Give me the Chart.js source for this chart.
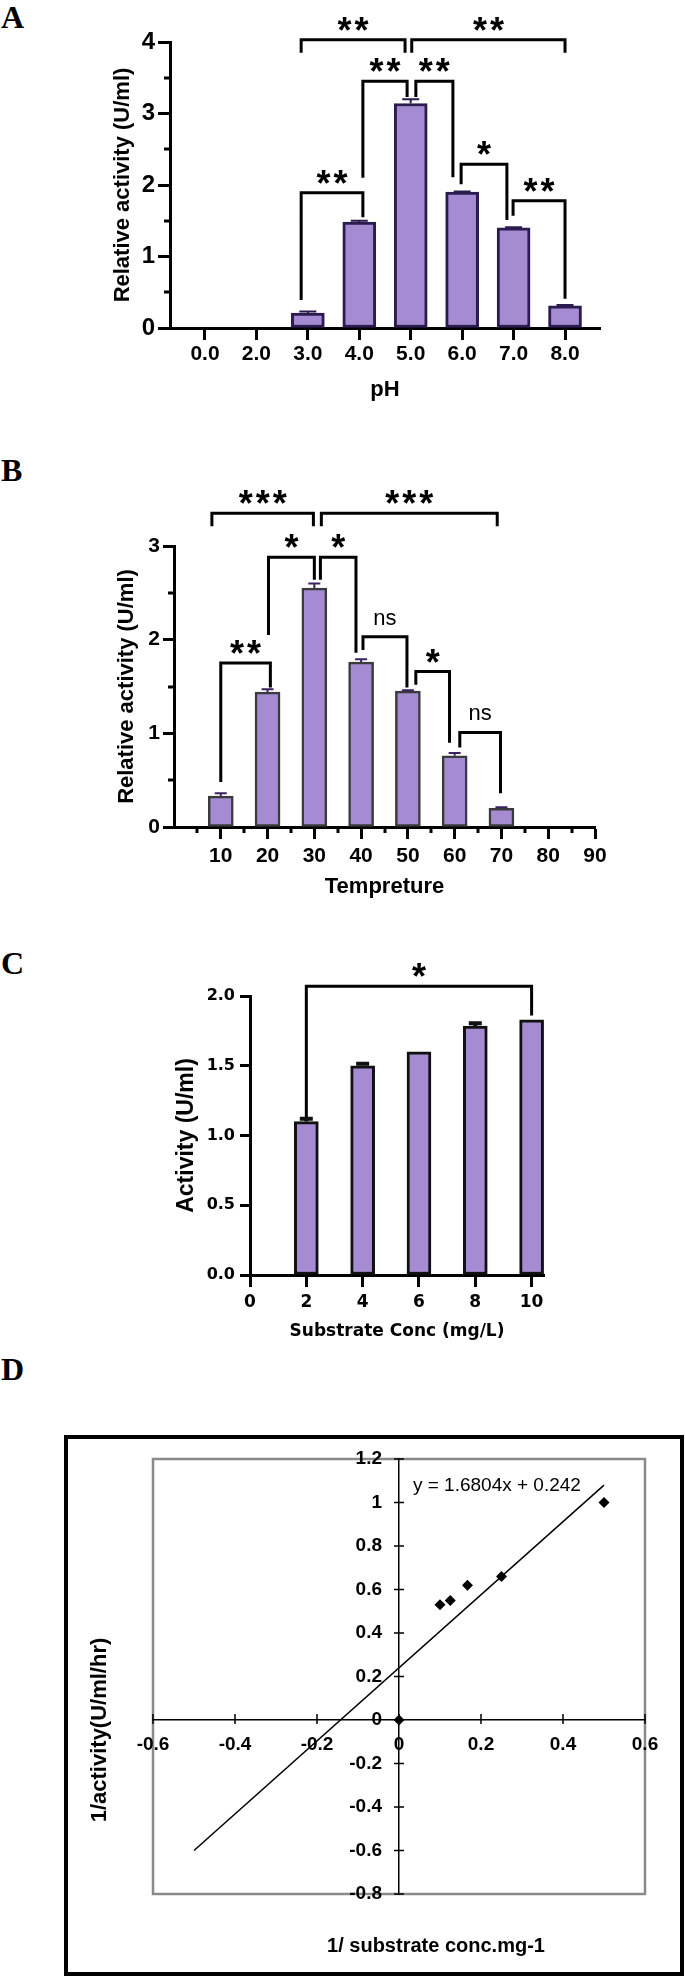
<!DOCTYPE html>
<html>
<head>
<meta charset="utf-8">
<title>Enzyme activity</title>
<script src="https://cdn.jsdelivr.net/npm/chart.js@4.4.1/dist/chart.umd.min.js"></script>
<style>
  html, body { margin:0; padding:0; background:#fff; }
  body { position:relative; width:685px; height:1979px; overflow:hidden; }
  canvas { position:absolute; left:0; }
  .panel { position:absolute; left:1px; font-family:'Liberation Serif','Times New Roman',serif; font-weight:bold; font-size:32px; line-height:32px; color:#000; }
  #frameD { position:absolute; left:64px; top:1435px; width:620px; height:541px; border:4px solid #000; box-sizing:border-box; }
</style>
</head>
<body>
<div class="panel" style="top:1px">A</div>
<div class="panel" style="top:454px">B</div>
<div class="panel" style="top:947px">C</div>
<div class="panel" style="top:1353px">D</div>
<div id="frameD"></div>
<canvas id="chartA" width="685" height="410" style="top:0"></canvas>
<canvas id="chartB" width="685" height="470" style="top:440px"></canvas>
<canvas id="chartC" width="685" height="420" style="top:930px"></canvas>
<canvas id="chartD" width="685" height="579" style="top:1400px"></canvas>
<script>
// ---------- Panel A : pH ----------
const phLabels   = ['0.0','2.0','3.0','4.0','5.0','6.0','7.0','8.0'];
const phActivity = [0, 0, 0.21, 1.48, 3.14, 1.90, 1.40, 0.31];
const phError    = [0, 0, 0.02, 0.02, 0.06, 0.01, 0.01, 0.01];
const phYTicks   = [0, 1, 2, 3, 4];
const phYMinor   = [0.5, 1.5, 2.5, 3.5];
// [from, to, top, left leg end, right leg end, label]  (x in category index, y in U/ml)
const phBrackets = [
  [1.87, 3.89, 4.03, 3.85, 3.85, '**'],
  [4.02, 7.00, 4.03, 3.85, 3.85, '**'],
  [3.07, 3.93, 3.45, 2.10, 3.23, '**'],
  [4.10, 4.82, 3.45, 3.23, 2.11, '**'],
  [1.87, 3.07, 1.89, 0.39, 1.55, '**'],
  [4.98, 5.87, 2.29, 2.01, 1.51, '*'],
  [5.99, 7.00, 1.78, 1.57, 0.41, '**']
];

// ---------- Panel B : temperature ----------
const tempValues   = [10, 20, 30, 40, 50, 60, 70];
const tempActivity = [0.33, 1.44, 2.55, 1.76, 1.45, 0.76, 0.20];
const tempError    = [0.03, 0.03, 0.05, 0.03, 0.01, 0.03, 0.01];
const tempXTicks   = [10, 20, 30, 40, 50, 60, 70, 80, 90];
const tempXMinor   = [5, 15, 25, 35, 45, 55, 65, 75, 85];
const tempYTicks   = [0, 1, 2, 3];
const tempYMinor   = [0.5, 1.5, 2.5];
const tempBrackets = [
  [8.1, 29.8, 3.35, 3.21, 3.21, '***'],
  [31.5, 69.1, 3.35, 3.21, 3.21, '***'],
  [20.2, 30.0, 2.88, 2.05, 2.64, '*'],
  [31.3, 38.9, 2.88, 2.64, 1.86, '*'],
  [10.0, 20.6, 1.75, 0.48, 1.49, '**'],
  [40.4, 49.8, 2.03, 1.89, 1.49, 'ns'],
  [51.7, 58.9, 1.66, 1.52, 0.90, '*'],
  [61.1, 69.8, 1.01, 0.85, 0.36, 'ns']
];

// ---------- Panel C : substrate concentration ----------
const concValues   = [0, 2, 4, 6, 8, 10];
const concActivity = [0, 1.10, 1.50, 1.60, 1.785, 1.83];
const concError    = [0, 0.02, 0.015, 0, 0.02, 0];
const concXTicks   = [0, 2, 4, 6, 8, 10];
const concYTicks   = [0, 0.5, 1, 1.5, 2];
const concYLabels  = ['0.0', '0.5', '1.0', '1.5', '2.0'];
const concBrackets = [[2, 10, 2.07, 1.125, 1.86, '*']];

// ---------- Panel D : Lineweaver-Burk ----------
const lbX = [0, 0.1, 0.125, 0.167, 0.25, 0.5];
const lbY = [0, 0.53, 0.55, 0.62, 0.66, 1.0];
const trendX = [-0.5, 0.5];
const trendY = [-0.6, 1.08];
const lbXTicks = [-0.6, -0.4, -0.2, 0, 0.2, 0.4, 0.6];
const lbXTickLabels = ['-0.6', '-0.4', '-0.2', '0', '0.2', '0.4', '0.6'];
const lbYTicks = [-0.8, -0.6, -0.4, -0.2, 0, 0.2, 0.4, 0.6, 0.8, 1, 1.2];
const lbYTickLabels = ['-0.8', '-0.6', '-0.4', '-0.2', '0', '0.2', '0.4', '0.6', '0.8', '1', '1.2'];
const equationText = 'y = 1.6804x + 0.242';
const equationAt = [0.034, 1.075];

// ---------- styling ----------
const PURPLE = '#a58bd1';
const ARIAL  = "'Liberation Sans',Arial,sans-serif";
const DEJAVU = "'DejaVu Sans',sans-serif";

function makeAnnot(p) {
  return {
    id: 'annot',
    afterDraw(chart) {
      const ctx = chart.ctx, xs = chart.scales.x, ys = chart.scales.y, ca = chart.chartArea;
      ctx.save();
      // minor ticks
      (p.minor || []).forEach(m => {
        ctx.strokeStyle = '#000'; ctx.lineWidth = 3; ctx.lineCap = 'butt';
        ctx.beginPath();
        m.values.forEach(v => {
          if (m.axis === 'y') {
            const py = Math.round(ys.getPixelForValue(v));
            ctx.moveTo(ca.left - m.len, py); ctx.lineTo(ca.left, py);
          } else {
            const px = Math.round(xs.getPixelForValue(v));
            ctx.moveTo(px, ca.bottom); ctx.lineTo(px, ca.bottom + m.len);
          }
        });
        ctx.stroke();
      });
      // error bars
      ctx.strokeStyle = p.errColor; ctx.lineWidth = p.errW;
      p.xs.forEach((x, i) => {
        const e = p.err[i];
        if (!e) return;
        const px = xs.getPixelForValue(x);
        const y0 = ys.getPixelForValue(p.ys[i]);
        const y1 = ys.getPixelForValue(p.ys[i] + e);
        ctx.beginPath();
        ctx.moveTo(px, y0); ctx.lineTo(px, y1);
        ctx.moveTo(px - p.capW / 2, y1); ctx.lineTo(px + p.capW / 2, y1);
        ctx.stroke();
      });
      // significance brackets
      ctx.strokeStyle = '#000'; ctx.fillStyle = '#000';
      ctx.lineWidth = 3; ctx.lineJoin = 'miter'; ctx.lineCap = 'butt';
      p.brackets.forEach(b => {
        const x1 = xs.getPixelForValue(b[0]), x2 = xs.getPixelForValue(b[1]);
        const yt = ys.getPixelForValue(b[2]);
        ctx.beginPath();
        ctx.moveTo(x1, ys.getPixelForValue(b[3]));
        ctx.lineTo(x1, yt); ctx.lineTo(x2, yt);
        ctx.lineTo(x2, ys.getPixelForValue(b[4]));
        ctx.stroke();
        const cx = (x1 + x2) / 2, cy = yt - 18;
        const lab = b[5];
        if (lab === 'ns') {
          ctx.font = '22px ' + ARIAL; ctx.textAlign = 'center'; ctx.textBaseline = 'alphabetic';
          ctx.fillText('ns', cx, cy + 6);
        } else {
          ctx.font = 'bold 36px ' + ARIAL; ctx.textAlign = 'center'; ctx.textBaseline = 'alphabetic';
          const n = lab.length;
          for (let k = 0; k < n; k++) {
            ctx.fillText('*', cx + (k - (n - 1) / 2) * 17, cy + 21);
          }
        }
      });
      ctx.restore();
    }
  };
}

function gridOpts(len) {
  return { display: true, drawOnChartArea: false, drawTicks: true, tickLength: len, tickWidth: 3, tickColor: '#000', offset: false };
}

function barChart(id, p) {
  return new Chart(document.getElementById(id), {
    type: 'bar',
    data: { datasets: [{
      data: p.xs.map((x, i) => ({ x: x, y: p.ys[i] })),
      backgroundColor: PURPLE, borderColor: p.border, borderWidth: p.bw,
      borderSkipped: false, barThickness: p.barW
    }]},
    options: {
      responsive: false, animation: false, events: [],
      layout: { padding: { left: 0, top: p.top, right: p.right, bottom: 0 } },
      plugins: { legend: { display: false }, tooltip: { enabled: false } },
      scales: {
        x: {
          type: 'linear', min: p.xmin, max: p.xmax, offset: false,
          afterBuildTicks: s => { s.ticks = p.xTicks.map(v => ({ value: v })); },
          afterFit: s => { s.height = p.xH; },
          ticks: { font: p.xTickFont, color: '#000', padding: p.xTickPad, autoSkip: false, maxRotation: 0, minRotation: 0, callback: p.xLabel },
          grid: gridOpts(p.xTL), border: { display: true, color: '#000', width: 3 },
          title: { display: true, text: p.xTitle, font: p.xTitleFont, color: '#000', padding: { top: 0, bottom: p.xTitlePad } }
        },
        y: {
          type: 'linear', min: p.ymin, max: p.ymax,
          afterBuildTicks: s => { s.ticks = p.yTicks.map(v => ({ value: v })); },
          afterFit: s => { s.width = p.yW; },
          ticks: { font: p.yTickFont, color: '#000', padding: p.yTickPad, autoSkip: false, callback: p.yLabel },
          grid: gridOpts(p.yTL), border: { display: true, color: '#000', width: 3 },
          title: { display: true, text: p.yTitle, font: p.yTitleFont, color: '#000', padding: { top: p.yTitlePad, bottom: 0 } }
        }
      }
    },
    plugins: [makeAnnot(p)]
  });
}

// Panel A
barChart('chartA', {
  xs: phLabels.map((_, i) => i), ys: phActivity, err: phError, brackets: phBrackets,
  border: '#2b1b4f', bw: 3, barW: 33, errColor: '#2b1b4f', errW: 2, capW: 17,
  top: 42, right: 85, xmin: -0.68, xmax: 7.68, xH: 82, yW: 170,
  xTicks: phLabels.map((_, i) => i), xLabel: v => phLabels[v],
  yTicks: phYTicks, yLabel: v => String(v), ymin: 0, ymax: 4,
  xTL: 12, yTL: 12, xTickPad: 2, yTickPad: 3,
  xTickFont: { family: ARIAL, size: 21, weight: 'bold' },
  yTickFont: { family: ARIAL, size: 24, weight: 'bold' },
  xTitle: 'pH', xTitleFont: { family: ARIAL, size: 22, weight: 'bold' }, xTitlePad: 7,
  yTitle: 'Relative activity (U/ml)', yTitleFont: { family: ARIAL, size: 22, weight: 'bold' }, yTitlePad: 110,
  minor: [{ axis: 'y', values: phYMinor, len: 6 }]
});

// Panel B
barChart('chartB', {
  xs: tempValues, ys: tempActivity, err: tempError, brackets: tempBrackets,
  border: '#3a3a3a', bw: 2.5, barW: 25, errColor: '#3b2160', errW: 2, capW: 12,
  top: 106, right: 90, xmin: 0, xmax: 90, xH: 83, yW: 174,
  xTicks: tempXTicks, xLabel: v => String(v),
  yTicks: tempYTicks, yLabel: v => String(v), ymin: 0, ymax: 3,
  xTL: 12, yTL: 11, xTickPad: 5, yTickPad: 3,
  xTickFont: { family: ARIAL, size: 21, weight: 'bold' },
  yTickFont: { family: ARIAL, size: 21, weight: 'bold' },
  xTitle: 'Tempreture', xTitleFont: { family: ARIAL, size: 22, weight: 'bold' }, xTitlePad: 10,
  yTitle: 'Relative activity (U/ml)', yTitleFont: { family: ARIAL, size: 22, weight: 'bold' }, yTitlePad: 114,
  minor: [{ axis: 'y', values: tempYMinor, len: 6 }, { axis: 'x', values: tempXMinor, len: 6 }]
});

// Panel C
barChart('chartC', {
  xs: concValues, ys: concActivity, err: concError, brackets: concBrackets,
  border: '#111', bw: 3, barW: 24, errColor: '#111', errW: 4, capW: 13,
  top: 66, right: 141, xmin: 0, xmax: 10.44, xH: 75, yW: 250,
  xTicks: concXTicks, xLabel: v => String(v),
  yTicks: concYTicks, yLabel: v => concYLabels[concYTicks.indexOf(v)], ymin: 0, ymax: 2,
  xTL: 12, yTL: 10, xTickPad: 5, yTickPad: 5,
  xTickFont: { family: DEJAVU, size: 17, weight: 'bold' },
  yTickFont: { family: DEJAVU, size: 16, weight: 'bold' },
  xTitle: 'Substrate Conc (mg/L)', xTitleFont: { family: DEJAVU, size: 17, weight: 'bold' }, xTitlePad: 8,
  yTitle: 'Activity (U/ml)', yTitleFont: { family: ARIAL, size: 23, weight: 'bold' }, yTitlePad: 173,
  minor: []
});

// Panel D
const lbPlugin = {
  id: 'lbAnnot',
  beforeDraw(chart) {
    const ctx = chart.ctx, ca = chart.chartArea;
    ctx.save();
    ctx.strokeStyle = '#8a8a8a'; ctx.lineWidth = 2.5;
    ctx.strokeRect(ca.left, ca.top, ca.right - ca.left, ca.bottom - ca.top);
    ctx.restore();
  },
  afterDraw(chart) {
    const ctx = chart.ctx, xs = chart.scales.x, ys = chart.scales.y;
    const x0 = xs.getPixelForValue(0), y0 = ys.getPixelForValue(0);
    ctx.save();
    ctx.strokeStyle = '#000'; ctx.lineWidth = 1.5;
    ctx.beginPath();
    lbXTicks.forEach(v => { const px = xs.getPixelForValue(v); ctx.moveTo(px, y0 - 6); ctx.lineTo(px, y0 + 4); });
    lbYTicks.forEach(v => { const py = ys.getPixelForValue(v); ctx.moveTo(x0 - 5, py); ctx.lineTo(x0 + 5, py); });
    ctx.stroke();
    ctx.fillStyle = '#000';
    // y tick labels, left of the y axis
    ctx.font = 'bold 19px ' + ARIAL; ctx.textAlign = 'right'; ctx.textBaseline = 'middle';
    lbYTicks.forEach((v, i) => ctx.fillText(lbYTickLabels[i], x0 - 17, ys.getPixelForValue(v)));
    ctx.font = '19px ' + ARIAL; ctx.textAlign = 'left'; ctx.textBaseline = 'middle';
    ctx.fillText(equationText, xs.getPixelForValue(equationAt[0]), ys.getPixelForValue(equationAt[1]));
    ctx.font = 'bold 20px ' + ARIAL; ctx.textAlign = 'center';
    ctx.fillText('1/ substrate conc.mg-1', 436, 546);
    ctx.font = 'bold 22px ' + ARIAL;
    ctx.translate(100, 330); ctx.rotate(-Math.PI / 2);
    ctx.fillText('1/activity(U/ml/hr)', 0, 0);
    ctx.restore();
  }
};

new Chart(document.getElementById('chartD'), {
  type: 'scatter',
  data: { datasets: [
    { data: trendX.map((x, i) => ({ x: x, y: trendY[i] })), showLine: true, borderColor: '#000', borderWidth: 1.5, pointRadius: 0, fill: false },
    { data: lbX.map((x, i) => ({ x: x, y: lbY[i] })), pointStyle: 'rectRot', pointRadius: 5.5, backgroundColor: '#000', borderColor: '#000', borderWidth: 0 }
  ]},
  options: {
    responsive: false, animation: false, events: [],
    layout: { padding: { left: 153, right: 40, top: 59, bottom: 85 } },
    plugins: { legend: { display: false }, tooltip: { enabled: false } },
    scales: {
      x: {
        type: 'linear', min: -0.6, max: 0.6, position: { y: 0 },
        afterBuildTicks: s => { s.ticks = lbXTicks.map(v => ({ value: v })); },
        afterFit: s => { s.height = 0; },
        ticks: { font: { family: ARIAL, size: 19, weight: 'bold' }, color: '#000', padding: 13, autoSkip: false, maxRotation: 0,
                 callback: (v, i) => lbXTickLabels[i] },
        grid: { display: false, drawTicks: false },
        border: { display: true, color: '#000', width: 1.5 }
      },
      y: {
        type: 'linear', min: -0.8, max: 1.2, position: { x: 0 },
        afterBuildTicks: s => { s.ticks = lbYTicks.map(v => ({ value: v })); },
        afterFit: s => { s.width = 0; },
        ticks: { display: false },
        grid: { display: false, drawTicks: false },
        border: { display: true, color: '#000', width: 1.5 }
      }
    }
  },
  plugins: [lbPlugin]
});
</script>
</body>
</html>
